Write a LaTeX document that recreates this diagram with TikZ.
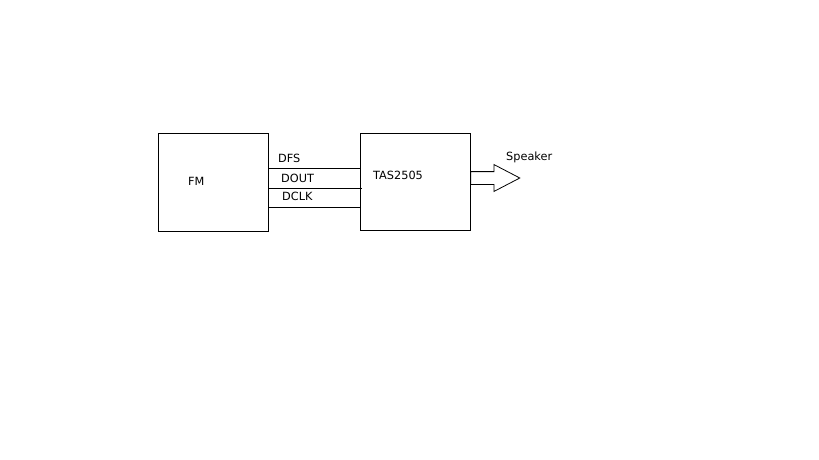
\documentclass[tikz,border=0pt]{standalone}
\usepackage{fontspec}
\setmainfont{DejaVu Sans}
\usetikzlibrary{positioning,shapes.arrows}
\tikzset{%
  block/.style={draw, rectangle, line width=0.8pt, minimum width=110pt, minimum height=98pt, inner sep=0pt},% chip box
  sig/.style={anchor=base west, inner sep=0pt, font=\fontsize{11.3}{14}\selectfont},% signal name
  wire/.style={line width=0.8pt},% bus line
  outarrow/.style={draw, line width=0.8pt, shape=single arrow, single arrow head extend=7pt,
    single arrow tip angle=55, minimum height=49pt, inner sep=0pt, text height=12pt, text depth=0pt}% output arrow
}
\begin{document}
\begin{tikzpicture}[x=1pt,y=-1pt]
\useasboundingbox (0,0) rectangle (819,460);
\node[block] (fm) at (213,182) {};
\node[block, minimum height=97pt] (tas) at (415,181.5) {};

\node[sig] (fml) at (188,185) {FM};
\node[sig] (tasl) at (373,179) {TAS2505};

\draw[wire] (fm.east |- 0,168) -- (tas.west |- 0,168);
\draw[wire] (fm.east |- 0,188) -- ([xshift=2pt]tas.west |- 0,188);
\draw[wire] (fm.east |- 0,207) -- (tas.west |- 0,207);

\node[sig] (dfs) at (278,162) {DFS};
\node[sig] (dout) at (281,182) {DOUT};
\node[sig] (dclk) at (282,200) {DCLK};

\node[outarrow, anchor=tail] (spk) at (tas.east |- 0,178) {};
\node[sig] (spkl) at (506,160) {Speaker};
\end{tikzpicture}
\end{document}
